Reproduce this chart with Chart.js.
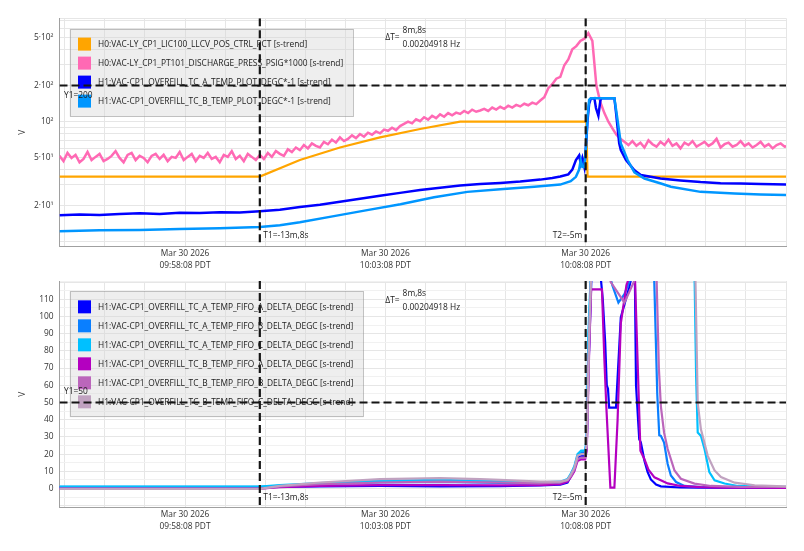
<!DOCTYPE html>
<html><head><meta charset="utf-8">
<script src="https://cdn.jsdelivr.net/npm/chart.js@4.4.1/dist/chart.umd.min.js"></script>
<style>
html,body{margin:0;padding:0;background:#fff;}
#wrap{position:relative;width:804px;height:551px;overflow:hidden;}
.box{position:absolute;left:0;width:804px;}
</style></head><body>
<div id="wrap">
<div class="box" style="top:0;height:270px"><canvas id="c1" width="804" height="270"></canvas></div>
<div class="box" style="top:270px;height:281px"><canvas id="c2" width="804" height="281"></canvas></div>
</div>
<script>
// ---------- axis / tick definitions ----------
const X_START = '09:55:00';
const X_END = '10:13:08';
const xGridTimes = ['09:55:08','09:56:08','09:57:08','09:58:08','09:59:08','10:00:08','10:01:08','10:02:08','10:03:08','10:04:08',
  '10:05:08','10:06:08','10:07:08','10:08:08','10:09:08','10:10:08','10:11:08','10:12:08','10:13:08'];
const xLabelTimes = ['09:58:08','10:03:08','10:08:08'];
const X_DATE = 'Mar 30 2026';
const X_TZ = 'PDT';

const topYMin = 9.26, topYMax = 724;
const topYGrid = [10,20,30,40,50,60,70,80,90,100,200,300,400,500,600,700];
const topYLabels = {20:'2·10¹', 50:'5·10¹', 100:'10²', 200:'2·10²', 500:'5·10²'};
const botYMin = -10.9, botYMax = 120.6;
const botYGrid = [-10,-5,0,5,10,15,20,25,30,35,40,45,50,55,60,65,70,75,80,85,90,95,100,105,110,115,120];
const botYLabels = [0,10,20,30,40,50,60,70,80,90,100,110];

// cursors
const T1 = '10:00:00', T2 = '10:08:08';
const T1_LABEL = 'T1=-13m,8s', T2_LABEL = 'T2=-5m';
const DT_LABEL = 'ΔT=', DT_VALUE = '8m,8s', DT_FREQ = '0.00204918 Hz';
const topY1 = 200, botY1 = 50;

// ---------- series (x = minutes after 09:55:00) ----------
const topLabels = [
  'H0:VAC-LY_CP1_LIC100_LLCV_POS_CTRL_PCT [s-trend]',
  'H0:VAC-LY_CP1_PT101_DISCHARGE_PRESS_PSIG*1000 [s-trend]',
  'H1:VAC-CP1_OVERFILL_TC_A_TEMP_PLOT_DEGC*-1 [s-trend]',
  'H1:VAC-CP1_OVERFILL_TC_B_TEMP_PLOT_DEGC*-1 [s-trend]'];
const topColors = ['#ffa500', '#ff69b4', '#0000ff', '#0096ff'];

const llcvPos = [[0,35],[5.0,35],[6,48],[7,61],[8,74],[9,87],[10.0,100],[13.15,100],[13.18,35],[18.2,35]];

const PINK_STEP = 0.1;
const dischargePress = [
  52,47,55,50,53,46,49,56,48,51, 54,47,49,52,57,50,46,53,55,48,
  52,50,46,52,54,49,53,47,51,50, 56,48,51,54,47,52,50,55,49,51,
  46,53,51,57,49,52,47,54,51,48, 53,
  49,55,51,57,54,52,59,56,61,
  58,64,60,66,63,61,68,65,71,67, 74,69,72,77,73,79,75,81,78,83,
  80,86,84,89,85,92,
  96,100,97,105, 101,109,104,112,107,115,110,118,113,119,
  116,123,118,126,121,124,128,123,131,126, 133,128,136,131,138,134,141,137,144,140, 150,
  160,190,205,228,236,295,330,400,425,470,490,545,470,200,145,118,100,88,78,72,68,
  64,69,63,67,61,70,65,62,68,64, 71,63,66,60,67,64,69,62,65,68,
  63,66,72,61,65,67,62,64,69,63, 66,61,64,68,62,65,60,64,66,62, 63];

const tcAPlot = [[0,16.7],[0.5,16.9],[1,16.8],[1.5,17.1],[2,17.3],[2.5,17.1],[3,17.5],[3.5,17.4],[4,17.7],[4.5,17.6],[5,18.0],
  [5.5,18.5],[6,19.5],[6.5,20.4],[7,21.6],[7.5,22.9],[8,24.2],[8.5,25.6],[9,27.0],[9.5,28.2],[10,29.5],[10.5,30.3],[11,31.0],
  [11.5,31.8],[12,33.0],[12.3,34],[12.5,35],[12.7,36.5],[12.8,40],[12.89,48],[12.97,52.5],[13.01,44.7],[13.05,50],[13.1,42],
  [13.14,62],[13.18,103],[13.22,141],[13.26,155],[13.35,157],[13.39,130],[13.45,112],[13.5,150],[13.53,157],[13.85,157],
  [13.89,120],[13.97,66],[14.01,58],[14.14,48],[14.35,39.5],[14.51,36],[15.0,33.7],[15.5,32.5],[16,31.5],[16.5,30.8],
  [17,30.6],[17.5,30.3],[18.2,30.1]];
const tcBPlot = [[0,12.3],[1,12.5],[2,12.6],[3,12.8],[4,13.0],[5,13.3],[5.5,13.8],[6,14.6],[6.85,16.4],[7.68,18.4],[8.51,20.6],
  [9.35,23.5],[10.18,26.1],[11,27.5],[11.85,28.8],[12.5,30],[12.76,32],[12.89,34.8],[12.97,40],[13.01,48],[13.05,42],[13.1,42],
  [13.14,62],[13.18,110],[13.22,152],[13.26,157],[13.85,157],[13.93,103],[14.01,66],[14.18,48],[14.35,38],[14.6,33.7],
  [15.01,30.6],[15.26,28.8],[16.0,26.1],[16.85,25.3],[17.5,24.8],[18.2,24.5]];

const botLabels = [
  'H1:VAC-CP1_OVERFILL_TC_A_TEMP_FIFO_A_DELTA_DEGC [s-trend]',
  'H1:VAC-CP1_OVERFILL_TC_A_TEMP_FIFO_B_DELTA_DEGC [s-trend]',
  'H1:VAC-CP1_OVERFILL_TC_A_TEMP_FIFO_C_DELTA_DEGC [s-trend]',
  'H1:VAC-CP1_OVERFILL_TC_B_TEMP_FIFO_A_DELTA_DEGC [s-trend]',
  'H1:VAC-CP1_OVERFILL_TC_B_TEMP_FIFO_B_DELTA_DEGC [s-trend]',
  'H1:VAC-CP1_OVERFILL_TC_B_TEMP_FIFO_C_DELTA_DEGC [s-trend]'];
const botColors = ['#0000ff', '#0a7fff', '#00c0ff', '#b400c0', '#bb66bb', '#c0a2c0'];

const tcAFifoA = [[0,0.8],[5.0,0.8],[5.5,0.9],[6.5,1.3],[8,1.5],[9.5,1.3],[11,1.4],[12,1.8],[12.5,2.3],[12.68,3.5],[12.76,7],
  [12.85,11],[12.93,18],[13.02,19],[13.12,19],[13.16,24],[13.2,67],[13.28,125],[13.5,125],[13.56,110],[13.62,85],[13.66,60],
  [13.69,58],[13.72,47],[13.89,47],[14.01,99.5],[14.22,117],[14.3,125],[14.36,125],[14.39,60],[14.47,28.7],[14.51,26.8],
  [14.6,16.2],[14.68,9.5],[14.76,5.3],[14.89,2.3],[15.01,1.3],[15.5,0.6],[16.5,0.4],[18.2,0.4]];
const tcAFifoB = [[0,1.0],[5,1.0],[5.5,1.5],[6.5,2.5],[8,3.5],[9.5,3.8],[11,3.3],[12,3.0],[12.5,3.5],[12.68,5],[12.76,8],
  [12.85,12],[12.93,19],[13.02,21],[13.12,21],[13.16,28],[13.2,80],[13.27,125],[13.72,125],[13.8,118],[13.95,108],[14.1,113],
  [14.3,125],[14.84,125],[14.92,55],[14.97,31],[15.01,30.6],[15.09,26.7],[15.18,14.3],[15.26,7.6],[15.39,3.8],[15.6,1.5],
  [16,0.8],[18.2,0.7]];
const tcAFifoC = [[0,1.2],[5,1.2],[5.5,2],[6.5,3.2],[8,4.5],[9.5,5],[11,4.2],[12,3.6],[12.5,4],[12.68,5.5],[12.76,8.5],
  [12.85,13],[12.93,20],[13.02,22],[13.12,22],[13.16,30],[13.2,90],[13.26,125],[15.85,125],[15.89,65],[15.93,32.5],[16.01,30.6],
  [16.1,23],[16.22,9.5],[16.35,4.8],[16.6,2.9],[16.93,1.5],[17.5,1.1],[18.2,1.0]];
const tcBFifoA = [[0,0],[5,0],[5.5,0.8],[6.5,1.5],[8,2],[9.5,2],[11,1.8],[12,2],[12.5,2.5],[12.68,4],[12.76,6.5],[12.85,10],
  [12.93,16],[13.02,17],[13.12,17],[13.16,22],[13.22,80],[13.27,115.7],[13.54,115.7],[13.6,75],[13.65,47],[13.75,0.5],
  [13.85,0.5],[13.93,40],[14.01,96],[14.15,118],[14.25,125],[14.36,125],[14.5,22],[14.6,17],[14.7,11],[14.85,6.5],[15.18,3],
  [15.5,1.5],[16,0.8],[16.5,0.5],[18.2,0.3]];
const tcBFifoB = [[0,-0.2],[5,-0.2],[5.5,1.2],[6.5,2.5],[8,3.5],[9.5,4],[11,3.5],[12,3],[12.5,3.5],[12.68,5],[12.76,7],
  [12.85,11],[12.93,17],[13.02,18],[13.12,18],[13.16,24],[13.22,85],[13.27,125],[13.7,125],[13.76,120],[14.1,108],[14.43,125],
  [14.9,125],[14.96,70],[15.01,47.8],[15.09,32.5],[15.18,23],[15.35,10.5],[15.51,5.7],[15.85,2.9],[16.26,1.5],[17,1.0],[18.2,0.9]];
const tcBFifoC = [[0,-0.2],[5,-0.2],[5.5,1.5],[6.5,3.5],[8,5.5],[9.5,6],[10.5,5.5],[11,5],[12,4],[12.5,4],[12.68,5],[12.76,8],
  [12.85,12],[12.93,19],[13.02,20],[13.12,20],[13.16,26],[13.22,90],[13.27,125],[15.87,125],[15.93,49.7],[16.01,34.4],
  [16.18,19],[16.35,10.5],[16.51,6.7],[16.85,3.4],[17.35,1.9],[18.1,1.3],[18.2,1.3]];

// ---------- helpers ----------
const FONT = '"Open Sans", "Noto Sans", sans-serif';
const FS = 8.4;
function toMin(t) {
  const p = t.split(':').map(Number), s = X_START.split(':').map(Number);
  return ((p[0]*3600 + p[1]*60 + p[2]) - (s[0]*3600 + s[1]*60 + s[2])) / 60;
}
const xMin = 0, xMax = toMin(X_END);
const xTickVals = xGridTimes.map(toMin);
const xTickText = xGridTimes.map(t => xLabelTimes.includes(t) ? [X_DATE, t + ' ' + X_TZ] : '');
const pinkData = dischargePress.map((v, i) => [i * PINK_STEP, v]);

Chart.defaults.font.family = FONT;
Chart.defaults.font.size = FS;
Chart.defaults.color = '#333';

const overlay = {
  id: 'overlay',
  afterDraw(chart, args, o) {
    const {ctx, chartArea: a} = chart;
    const xs = chart.scales.x, ys = chart.scales.y;
    ctx.save();
    ctx.font = FS + 'px ' + FONT;
    ctx.textBaseline = 'middle';
    // legend box
    const dss = chart.data.datasets;
    let maxW = 0;
    dss.forEach(d => { maxW = Math.max(maxW, ctx.measureText(d.label).width); });
    const bx = a.left + 10, by = a.top + 10.3;
    const bw = 28.5 + maxW + 10, bh = dss.length * 19 + 12;
    ctx.fillStyle = 'rgba(214,214,214,0.42)';
    ctx.fillRect(bx, by, bw, bh);
    ctx.strokeStyle = 'rgba(150,150,150,0.55)';
    ctx.lineWidth = 1;
    ctx.strokeRect(Math.round(bx) + 0.5, Math.round(by) + 0.5, Math.round(bw) - 1, Math.round(bh) - 1);
    dss.forEach((d, i) => {
      const cy = by + 15.5 + i * 19;
      ctx.fillStyle = d.borderColor;
      ctx.fillRect(bx + 8.5, cy - 6.5, 13, 13);
      ctx.fillStyle = '#222';
      ctx.textAlign = 'left';
      ctx.fillText(d.label, bx + 28.5, cy + 0.5);
    });
    // cursor lines
    const t1 = xs.getPixelForValue(toMin(T1)), t2 = xs.getPixelForValue(toMin(T2));
    const y1 = ys.getPixelForValue(o.y1);
    ctx.save();
    ctx.beginPath(); ctx.rect(a.left, a.top, a.right - a.left, a.bottom - a.top); ctx.clip();
    ctx.setLineDash([8, 4]);
    ctx.lineWidth = 2;
    ctx.strokeStyle = '#151515';
    ctx.beginPath(); ctx.moveTo(a.left, y1); ctx.lineTo(a.right, y1); ctx.stroke();
    ctx.lineWidth = 2.2;
    [t1, t2].forEach(px => { ctx.beginPath(); ctx.moveTo(px, a.top); ctx.lineTo(px, a.bottom); ctx.stroke(); });
    ctx.restore();
    // cursor labels
    ctx.fillStyle = '#222';
    ctx.textAlign = 'left';
    ctx.fillText('Y1=' + o.y1, a.left + 4.5, y1 + o.y1dy);
    ctx.fillText(T1_LABEL, t1 + 3.5, a.bottom - 10);
    ctx.textAlign = 'right';
    ctx.fillText(T2_LABEL, t2 - 3.5, a.bottom - 10);
    const mid = (t1 + t2) / 2;
    const wd = ctx.measureText(DT_LABEL).width;
    const wv = Math.max(ctx.measureText(DT_VALUE).width, ctx.measureText(DT_FREQ).width);
    const left = mid - (wd + 3 + wv) / 2;
    ctx.textAlign = 'left';
    ctx.fillText(DT_LABEL, left, a.top + 19.5);
    ctx.fillText(DT_VALUE, left + wd + 3, a.top + 12.8);
    ctx.fillText(DT_FREQ, left + wd + 3, a.top + 26.5);
    ctx.restore();
  }
};

function xAxis() {
  return {
    type: 'linear', min: xMin, max: xMax,
    afterBuildTicks: s => { s.ticks = xTickVals.map(v => ({value: v})); },
    afterFit: s => { s.height = 24; },
    grid: {color: '#e6e6e6', drawTicks: false},
    border: {color: '#a0a0a0', width: 1},
    ticks: {autoSkip: false, maxRotation: 0, minRotation: 0, padding: 1.8,
      font: {size: FS, lineHeight: 1.4}, color: '#333',
      callback: (v, i) => xTickText[i]}
  };
}
function yTitle() {
  return {display: true, text: 'V', color: '#333', font: {size: FS, lineHeight: 1.2}, padding: {top: 17.5, bottom: 0}};
}

function lineDs(label, data, color, width, order) {
  return {label, data, borderColor: color, backgroundColor: color, borderWidth: width,
    pointRadius: 0, pointHoverRadius: 0, tension: 0, fill: false, order};
}

const common = {
  responsive: false, animation: false, events: [],
  plugins: {legend: {display: false}, tooltip: {enabled: false}}
};

new Chart(document.getElementById('c1'), {
  type: 'line',
  data: {datasets: [
    lineDs(topLabels[0], llcvPos, topColors[0], 2.2, 3),
    lineDs(topLabels[1], pinkData, topColors[1], 2.5, 2),
    lineDs(topLabels[2], tcAPlot, topColors[2], 2.5, 1),
    lineDs(topLabels[3], tcBPlot, topColors[3], 2.5, 0)]},
  options: Object.assign({}, common, {
    layout: {padding: {top: 18.3, right: 18, left: 0, bottom: 0}},
    plugins: Object.assign({}, common.plugins, {overlay: {y1: topY1, y1dy: 10.5}}),
    scales: {
      x: xAxis(),
      y: {type: 'logarithmic', min: topYMin, max: topYMax,
        afterBuildTicks: s => { s.ticks = topYGrid.map(v => ({value: v})).concat([{value: topYMax}]); },
        afterFit: s => { s.width = 59.5; },
        grid: {color: '#e6e6e6', drawTicks: false},
        border: {color: '#a0a0a0', width: 1},
        ticks: {autoSkip: false, padding: 6, color: '#333', font: {size: FS},
          callback: v => topYLabels[v] || ''},
        title: yTitle()}
    }
  }),
  plugins: [overlay]
});

new Chart(document.getElementById('c2'), {
  type: 'line',
  data: {datasets: [
    lineDs(botLabels[0], tcAFifoA, botColors[0], 2.2, 5),
    lineDs(botLabels[1], tcAFifoB, botColors[1], 2.2, 4),
    lineDs(botLabels[2], tcAFifoC, botColors[2], 2.2, 3),
    lineDs(botLabels[3], tcBFifoA, botColors[3], 2.2, 2),
    lineDs(botLabels[4], tcBFifoB, botColors[4], 2.2, 1),
    lineDs(botLabels[5], tcBFifoC, botColors[5], 2.2, 0)]},
  options: Object.assign({}, common, {
    layout: {padding: {top: 8.3, right: 18, left: 0, bottom: 19.7}},
    plugins: Object.assign({}, common.plugins, {overlay: {y1: botY1, y1dy: -10.5}}),
    scales: {
      x: xAxis(),
      y: {type: 'linear', min: botYMin, max: botYMax,
        afterBuildTicks: s => { s.ticks = botYGrid.map(v => ({value: v})).concat([{value: botYMax}]); },
        afterFit: s => { s.width = 59.5; },
        grid: {color: ctx => (ctx.tick && ctx.tick.value % 10 === 0) ? '#e6e6e6' : '#f1f1f1', drawTicks: false},
        border: {color: '#a0a0a0', width: 1},
        ticks: {autoSkip: false, padding: 6, color: '#333', font: {size: FS},
          callback: v => botYLabels.includes(v) ? String(v) : ''},
        title: yTitle()}
    }
  }),
  plugins: [overlay]
});
</script>
</body></html>
